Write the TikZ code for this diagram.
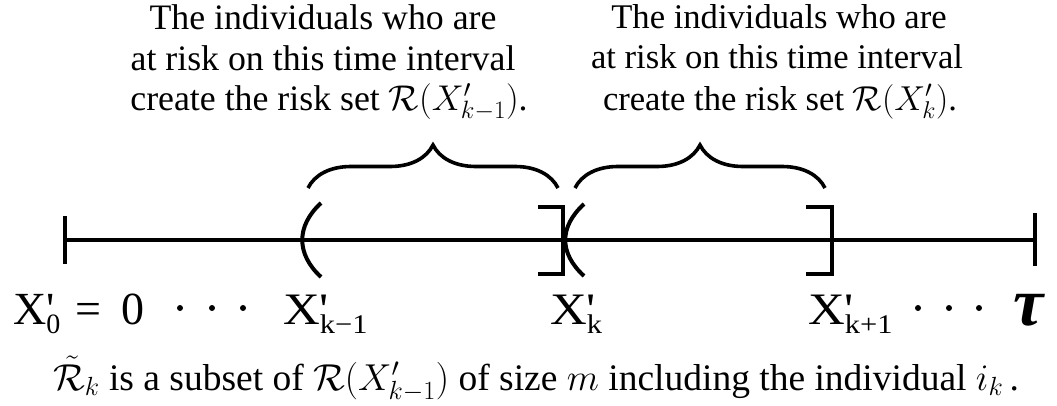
\RequirePackage{fix-cm}
\documentclass[tikz,border=0pt]{standalone}
\usepackage{amsmath}
\usepackage{fontspec}
\setmainfont{Liberation Serif}[Ligatures=TeXOff]
\usetikzlibrary{decorations.pathreplacing}
\newcommand{\Xlab}[1]{X\rlap{'}\raisebox{-0.2em}{\fontsize{27}{27}\selectfont #1}}
\begin{document}
\begin{tikzpicture}[x=1pt,y=-1pt,
  ln/.style={line width=4pt},
  bracestyle/.style={line width=3.6pt, decorate, decoration={brace, amplitude=43pt}},
  toptext/.style={inner sep=0, anchor=base, font=\fontsize{35.8}{40}\selectfont},
  toptextr/.style={inner sep=0, anchor=base, font=\fontsize{34.6}{40}\selectfont},
  lbl/.style={inner sep=0, anchor=base west, font=\fontsize{45}{45}\selectfont},
  dotc/.style={fill=black}]
\useasboundingbox (0,0) rectangle (1057,405);
% axis
\coordinate (start) at (65,240);
\coordinate (end) at (1035,240);
\draw[ln] (start) -- (end);
\draw[ln] (65,216) -- (65,264);
\draw[ln] (1035,213) -- (1035,266);
% parens and brackets
\draw[ln] (321,203) .. controls (296,226) and (296,254) .. (321,277);
\draw[ln] (538,207) -| (563,274) -- (538,274);
\draw[ln] (584,204) .. controls (559,227) and (559,253) .. (584,276);
\draw[ln] (806,207) -| (832,274) -- (806,274);
% braces
\coordinate (b1s) at (308,188);
\coordinate (b1e) at (558,188);
\coordinate (b2s) at (575,188);
\coordinate (b2e) at (825,188);
\draw[bracestyle] (b1s) -- (b1e);
\draw[bracestyle] (b2s) -- (b2e);
% top texts
\node[toptext] (tl1) at (323,29) {The individuals who are};
\node[toptext] (tl2) at (323,70) {at risk on this time interval};
\node[toptext] (tl3) at (329,110) {create the risk set $\mathcal{R}(X'_{k-1})$.};
\node[toptextr] (tr1) at (779,28) {The individuals who are};
\node[toptextr] (tr2) at (777,68) {at risk on this time interval};
\node[toptextr] (tr3) at (780,110) {create the risk set $\mathcal{R}(X'_{k})$.};
% axis labels
\node[inner sep=0, anchor=base west, font=\fontsize{46}{46}\selectfont] (x0) at (13,324)
  {X\rlap{'}\raisebox{-0.2em}{\fontsize{28}{28}\selectfont 0}\hspace{15pt}=\hspace{20pt}0};
\node[lbl] (xkm) at (283,324) {\scalebox{1.13}[1]{\Xlab{k\char"2212 1}}};
\node[lbl] (xk) at (550,324) {\scalebox{1.13}[1]{\Xlab{k}}};
\node[lbl] (xkp) at (808,324) {\scalebox{1.13}[1]{\Xlab{k+1}}};
\node[inner sep=0, anchor=base west, font=\fontsize{68}{68}\selectfont\bfseries\itshape] (tau) at (1013,325) {τ};
\foreach \x in {180,212,243,918,949,979} \fill[dotc] (\x,308) circle (3);
% caption
\node[inner sep=0, anchor=base, font=\fontsize{37.5}{40}\selectfont] (cap) at (536,390)
  {$\tilde{\mathcal{R}}_k$ is a subset of $\mathcal{R}(X'_{k-1})$ of size $m$ including the individual $i_k$\,.};
\end{tikzpicture}
\end{document}
